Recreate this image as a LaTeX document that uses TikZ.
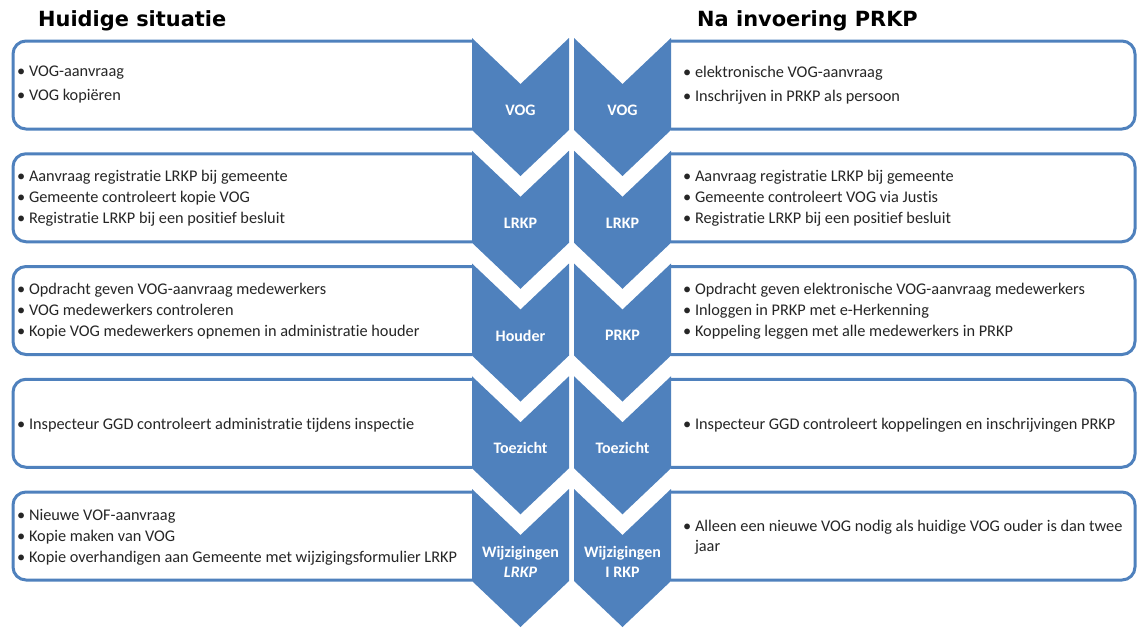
\documentclass[tikz,border=0pt]{standalone}
\usepackage{fontspec}
\setmainfont{Carlito}[Ligatures=NoCommon]
\newfontfamily\headfont{DejaVu Sans}
\definecolor{accent}{HTML}{4F81BD}
\definecolor{bodytext}{HTML}{262626}
\begin{document}
\begin{tikzpicture}[x=1pt,y=-1pt,
  box/.style={draw=accent, line width=3pt, rounded corners=13pt, fill=white, inner sep=0pt, minimum height=88pt},
  chev/.style={fill=accent},
  lab/.style={text=white, font=\bfseries\fontsize{16}{20}\selectfont, align=center, inner sep=0pt},
  txt/.style={anchor=west, align=left, font=\fontsize{16.3}{21}\selectfont, text=bodytext, inner sep=0pt},
  head/.style={anchor=west, font=\headfont\bfseries\fontsize{20.9}{24}\selectfont, inner sep=0pt}]
\useasboundingbox (0,0) rectangle (1138,630);
\node[head] (hl) at (38,20.5) {Huidige situatie};
\node[head] (hr) at (697,20.5) {Na invoering PRKP};
% boxes
\begin{scope}
\clip (0,0) rectangle (472.5,630);
\foreach \k in {0,...,4}{
  \pgfmathsetmacro{\t}{38+112.75*\k}
  \node[box, minimum width=538pt] (L\k) at (282,\t+47) {};
}
\end{scope}
\begin{scope}
\clip (670.5,0) rectangle (1138,630);
\foreach \k in {0,...,4}{
  \pgfmathsetmacro{\t}{38+112.75*\k}
  \node[box, minimum width=600pt] (R\k) at (835,\t+47) {};
}
\end{scope}
% chevrons
\foreach \k in {0,...,4}{
  \pgfmathsetmacro{\t}{38+112.75*\k}
  \fill[chev] (472,\t) -- (520.5,\t+46) -- (569,\t) -- (569,\t+92) -- (520.5,\t+138) -- (472,\t+92) -- cycle;
  \fill[chev] (574,\t) -- (622.5,\t+46) -- (671,\t) -- (671,\t+92) -- (622.5,\t+138) -- (574,\t+92) -- cycle;
}
% chevron labels
\node[lab] (c0l) at (520.5,110) {VOG};
\node[lab] (c0r) at (622.5,110) {VOG};
\node[lab] (c1l) at (520.5,223) {LRKP};
\node[lab] (c1r) at (622.5,223) {LRKP};
\node[lab] (c2l) at (520.5,335.5) {Houder};
\node[lab] (c2r) at (622.5,335.5) {PRKP};
\node[lab] (c3l) at (520.5,448) {Toezicht};
\node[lab] (c3r) at (622.5,448) {Toezicht};
\node[lab] (c4l) at (520.5,562) {Wijzigingen\\\itshape LRKP};
\node[lab] (c4r) at (622.5,562) {Wijzigingen\\I RKP};
% texts left
\node[txt, font=\fontsize{16.3}{24}\selectfont] (t0l) at (17,85) {\textbullet\ VOG-aanvraag\\\textbullet\ VOG kopiëren};
\node[txt] (t1l) at (17,198) {\textbullet\ Aanvraag registratie LRKP bij gemeente\\\textbullet\ Gemeente controleert\ kopie VOG\\\textbullet\ Registratie LRKP bij een positief besluit};
\node[txt] (t2l) at (17,311) {\textbullet\ Opdracht geven VOG-aanvraag medewerkers\\\textbullet\ VOG medewerkers controleren\\\textbullet\ Kopie VOG medewerkers opnemen in administratie houder};
\node[txt] (t3l) at (17,425) {\textbullet\ Inspecteur GGD controleert administratie tijdens inspectie};
\node[txt] (t4l) at (17,537) {\textbullet\ Nieuwe VOF-aanvraag\\\textbullet\ Kopie maken van VOG\\\textbullet\ Kopie overhandigen aan Gemeente met wijzigingsformulier LRKP};
% texts right
\node[txt, font=\fontsize{16.3}{24}\selectfont] (t0r) at (683,85) {\textbullet\ elektronische VOG-aanvraag\\\textbullet\ Inschrijven in PRKP als persoon};
\node[txt] (t1r) at (683,198) {\textbullet\ Aanvraag registratie LRKP bij gemeente\\\textbullet\ Gemeente controleert VOG via Justis\\\textbullet\ Registratie LRKP bij een positief besluit};
\node[txt] (t2r) at (683,311) {\textbullet\ Opdracht geven elektronische VOG-aanvraag medewerkers\\\textbullet\ Inloggen in PRKP met e-Herkenning\\\textbullet\ Koppeling leggen met alle medewerkers in PRKP};
\node[txt] (t3r) at (683,425) {\textbullet\ Inspecteur GGD controleert koppelingen en inschrijvingen PRKP};
\node[txt, font=\fontsize{16.3}{20}\selectfont] (t4r) at (683,537) {\textbullet\ Alleen een nieuwe VOG nodig als huidige VOG ouder is dan twee\\\phantom{\textbullet\ }jaar};
\end{tikzpicture}
\end{document}
